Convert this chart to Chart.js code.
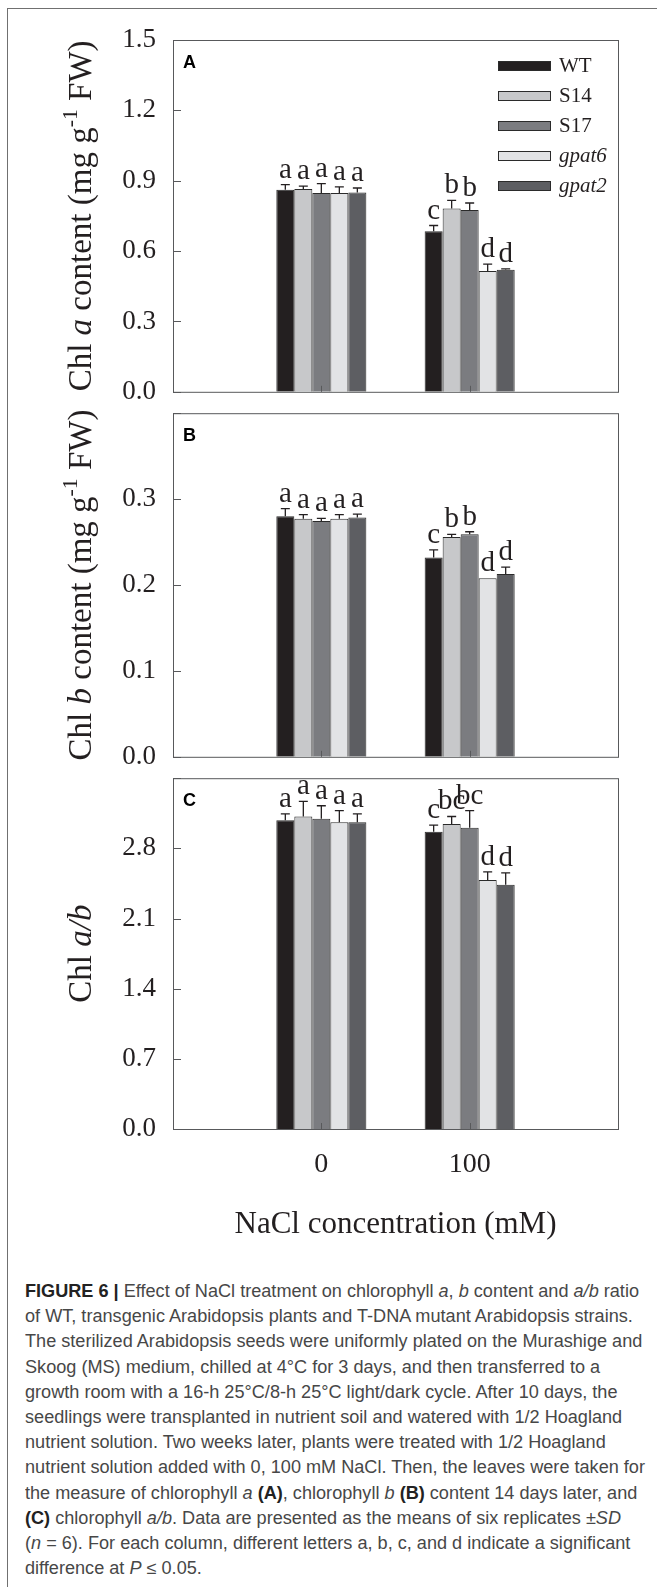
<!DOCTYPE html>
<html>
<head>
<meta charset="utf-8">
<script src="https://cdn.jsdelivr.net/npm/chart.js@4.4.1/dist/chart.umd.min.js"></script>
<style>
  html, body { margin: 0; padding: 0; background: #fff; }
  body { width: 657px; height: 1587px; position: relative; overflow: hidden; }
  #frame { position: absolute; left: 7px; top: 8px; width: 700px; height: 1600px;
           border-left: 1px solid #707070; border-top: 1px solid #707070; }
  canvas { position: absolute; left: 0; }
  #caption { position: absolute; left: 25px; top: 1279px; font-family: 'Liberation Sans', Arial, sans-serif;
             font-size: 17.5px; line-height: 25.2px; color: #474747; white-space: nowrap;
             transform-origin: 0 0; }
  #caption b { color: #222; }
</style>
</head>
<body>
<div id="frame"></div>
<canvas id="chartA" width="657" height="425" style="top:0"></canvas>
<canvas id="chartB" width="657" height="410" style="top:380px"></canvas>
<canvas id="chartC" width="657" height="520" style="top:745px"></canvas>
<div id="caption">
<b>FIGURE 6 |</b> Effect of NaCl treatment on chlorophyll <i>a</i>, <i>b</i> content and <i>a/b</i> ratio<br>
of WT, transgenic Arabidopsis plants and T-DNA mutant Arabidopsis strains.<br>
The sterilized Arabidopsis seeds were uniformly plated on the Murashige and<br>
Skoog (MS) medium, chilled at 4°C for 3 days, and then transferred to a<br>
growth room with a 16-h 25°C/8-h 25°C light/dark cycle. After 10 days, the<br>
seedlings were transplanted in nutrient soil and watered with 1/2 Hoagland<br>
nutrient solution. Two weeks later, plants were treated with 1/2 Hoagland<br>
<span id="longLine">nutrient solution added with 0, 100 mM NaCl. Then, the leaves were taken for</span><br>
the measure of chlorophyll <i>a</i> <b>(A)</b>, chlorophyll <i>b</i> <b>(B)</b> content 14 days later, and<br>
<b>(C)</b> chlorophyll <i>a/b</i>. Data are presented as the means of six replicates ±<i>SD</i><br>
(<i>n</i> = 6). For each column, different letters a, b, c, and d indicate a significant<br>
difference at <i>P</i> ≤ 0.05.
</div>
<script>
// NaCl treatments (mM) and plant lines
const concentrations = ['0', '100'];
const lines = ['WT', 'S14', 'S17', 'gpat6', 'gpat2'];
const italicLines = [false, false, false, true, true];
const barColors = ['#231f20', '#c7c8ca', '#7b7c80', '#e2e3e5', '#5d5e62'];

// A: Chl a content, one row per line: [0 mM, 100 mM]
const chlaMean = [[0.862, 0.685], [0.865, 0.782], [0.848, 0.775], [0.848, 0.515], [0.850, 0.520]];
const chlaSD = [[0.021, 0.024], [0.012, 0.034], [0.040, 0.030], [0.026, 0.029], [0.019, 0.004]];
const chlaLetters = [['a', 'c'], ['a', 'b'], ['a', 'b'], ['a', 'd'], ['a', 'd']];
const chlaTicks = [0, 0.3, 0.6, 0.9, 1.2, 1.5];
const chlaTickLabels = ['0.0', '0.3', '0.6', '0.9', '1.2', '1.5'];

// B: Chl b content
const chlbMean = [[0.280, 0.232], [0.277, 0.256], [0.2745, 0.259], [0.277, 0.208], [0.2785, 0.2127]];
const chlbSD = [[0.009, 0.009], [0.005, 0.003], [0.003, 0.003], [0.005, 0.0], [0.004, 0.008]];
const chlbLetters = [['a', 'c'], ['a', 'b'], ['a', 'b'], ['a', 'd'], ['a', 'd']];
const chlbTicks = [0, 0.1, 0.2, 0.3, 0.4];
const chlbTickLabels = ['0.0', '0.1', '0.2', '0.3', ''];

// C: Chl a/b ratio
const ratioMean = [[3.08, 2.966], [3.118, 3.044], [3.095, 3.006], [3.06, 2.484], [3.06, 2.436]];
const ratioSD = [[0.065, 0.065], [0.15, 0.074], [0.13, 0.17], [0.116, 0.081], [0.084, 0.12]];
const ratioLetters = [['a', 'c'], ['a', 'bc'], ['a', 'bc'], ['a', 'd'], ['a', 'd']];
const ratioTicks = [0, 0.7, 1.4, 2.1, 2.8, 3.5];
const ratioTickLabels = ['0.0', '0.7', '1.4', '2.1', '2.8', ''];

const serif = "'Liberation Serif', 'Times New Roman', serif";
const ink = '#231f20';

// draw a run of mixed-style text, rotated, centred on (cx, cy)
function drawRich(ctx, parts, cx, cy, size, rotate) {
  ctx.save();
  ctx.translate(cx, cy);
  if (rotate) ctx.rotate(-Math.PI / 2);
  ctx.fillStyle = ink;
  ctx.textBaseline = 'alphabetic';
  ctx.textAlign = 'left';
  const fontOf = p => (p.italic ? 'italic ' : '') + (p.sup ? size * 0.66 : size) + 'px ' + serif;
  let total = 0;
  parts.forEach(p => { ctx.font = fontOf(p); total += ctx.measureText(p.t).width; });
  let x = -total / 2;
  const base = size * 0.33;
  parts.forEach(p => {
    ctx.font = fontOf(p);
    ctx.fillText(p.t, x, p.sup ? base - size * 0.42 : base);
    x += ctx.measureText(p.t).width;
  });
  ctx.restore();
}

const panelDecor = {
  id: 'panelDecor',
  afterDatasetsDraw(chart, args, opts) {
    const ctx = chart.ctx;
    const area = chart.chartArea;
    const y = chart.scales.y, x = chart.scales.x;
    ctx.save();

    // error bars and significance letters
    chart.data.datasets.forEach((ds, i) => {
      const meta = chart.getDatasetMeta(i);
      meta.data.forEach((bar, j) => {
        if (ds.data[j] == null) return;
        const top = y.getPixelForValue(ds.data[j] + ds.sd[j]);
        ctx.strokeStyle = ink;
        ctx.lineWidth = 1.3;
        if (ds.sd[j] > 0) {
          ctx.beginPath();
          ctx.moveTo(bar.x, bar.y);
          ctx.lineTo(bar.x, top);
          ctx.moveTo(bar.x - 4.5, top);
          ctx.lineTo(bar.x + 4.5, top);
          ctx.stroke();
        }
        ctx.fillStyle = ink;
        ctx.font = '29px ' + serif;
        ctx.textAlign = 'center';
        ctx.textBaseline = 'alphabetic';
        ctx.fillText(ds.letters[j], bar.x, top - 7);
      });
    });

    // frame and inward ticks
    ctx.strokeStyle = '#58595b';
    ctx.lineWidth = 1;
    ctx.strokeRect(area.left + 0.5, area.top + 0.5, area.right - area.left, area.bottom - area.top);
    ctx.beginPath();
    y.ticks.forEach(t => {
      const py = Math.round(y.getPixelForValue(t.value)) + 0.5;
      ctx.moveTo(area.left, py);
      ctx.lineTo(area.left + 8, py);
    });
    for (let k = 1; k <= concentrations.length; k++) {
      const px = Math.round(x.getPixelForTick(k)) + 0.5;
      ctx.moveTo(px, area.bottom);
      ctx.lineTo(px, area.bottom - 6);
    }
    ctx.stroke();

    // panel tag
    ctx.fillStyle = '#000';
    ctx.font = "bold 18px 'Liberation Sans', Arial, sans-serif";
    ctx.textAlign = 'left';
    ctx.textBaseline = 'middle';
    ctx.fillText(opts.tag, area.left + 10, area.top + 23);

    // y title
    drawRich(ctx, opts.title, 80, (area.top + area.bottom) / 2, 33, true);

    // legend (panel A only)
    if (opts.legend) {
      lines.forEach((name, i) => {
        const cy = 66 + i * 30;
        ctx.fillStyle = barColors[i];
        ctx.fillRect(498, cy - 5, 52, 10);
        ctx.strokeStyle = '#2b2b2b';
        ctx.lineWidth = 1;
        ctx.strokeRect(498.5, cy - 4.5, 52, 9);
        ctx.fillStyle = ink;
        ctx.font = (italicLines[i] ? 'italic ' : '') + '21px ' + serif;
        ctx.textAlign = 'left';
        ctx.textBaseline = 'middle';
        ctx.fillText(name, 559, cy);
      });
    }
    ctx.restore();
  }
};

const xLabels = ['', ...concentrations, ''];

function makeDatasets(means, sds, letters) {
  return lines.map((name, i) => ({
    label: name,
    data: [null, ...means[i], null],
    sd: [null, ...sds[i], null],
    letters: [null, ...letters[i], null],
    backgroundColor: barColors[i],
    borderColor: '#2b2b2b',
    borderWidth: 1,
    categoryPercentage: 0.607,
    barPercentage: 1.0
  }));
}

function makeChart(id, means, sds, letters, ticks, tickLabels, padding, decor, showX) {
  const xScale = {
    offset: false,
    display: showX,
    grid: { display: false, drawTicks: false },
    border: { display: false },
    ticks: { padding: 19, color: ink, autoSkip: false, maxRotation: 0, font: { family: serif, size: 28 } }
  };
  if (showX) {
    xScale.title = { display: true, text: 'NaCl concentration (mM)', color: ink,
                     font: { family: serif, size: 31 }, padding: { top: 0, bottom: 22 } };
    xScale.afterFit = s => { s.height = 136; };
  }
  return new Chart(document.getElementById(id).getContext('2d'), {
    type: 'bar',
    data: { labels: xLabels, datasets: makeDatasets(means, sds, letters) },
    options: {
      responsive: false,
      animation: false,
      layout: { padding: padding },
      plugins: { legend: { display: false }, tooltip: { enabled: false }, panelDecor: decor },
      scales: {
        x: xScale,
        y: {
          min: ticks[0],
          max: ticks[ticks.length - 1],
          afterBuildTicks: s => { s.ticks = ticks.map(v => ({ value: v })); },
          afterFit: s => { s.width = 173; },
          grid: { display: false, drawTicks: false },
          border: { display: false },
          ticks: { padding: 17, color: ink, font: { family: serif, size: 27 },
                   callback: (v, i) => tickLabels[i] }
        }
      }
    },
    plugins: [panelDecor]
  });
}

makeChart('chartA', chlaMean, chlaSD, chlaLetters, chlaTicks, chlaTickLabels,
  { left: 0, right: 39, top: 40, bottom: 23 },
  { tag: 'A', legend: true, title: [{ t: 'Chl ' }, { t: 'a', italic: true }, { t: ' content (mg g' }, { t: '-1', sup: true }, { t: ' FW)' }] },
  false);

makeChart('chartB', chlbMean, chlbSD, chlbLetters, chlbTicks, chlbTickLabels,
  { left: 0, right: 39, top: 22, bottom: 23 },
  { tag: 'B', legend: false, title: [{ t: 'Chl ' }, { t: 'b', italic: true }, { t: ' content (mg g' }, { t: '-1', sup: true }, { t: ' FW)' }] },
  false);

makeChart('chartC', ratioMean, ratioSD, ratioLetters, ratioTicks, ratioTickLabels,
  { left: 0, right: 39, top: 22, bottom: 0 },
  { tag: 'C', legend: false, title: [{ t: 'Chl ' }, { t: 'a/b', italic: true }] },
  true);

// squeeze the caption horizontally so the longest line spans the same width as in the figure
const cap = document.getElementById('caption');
const w = document.getElementById('longLine').getBoundingClientRect().width;
cap.style.transform = 'scaleX(' + (620 / w).toFixed(4) + ')';
</script>
</body>
</html>
